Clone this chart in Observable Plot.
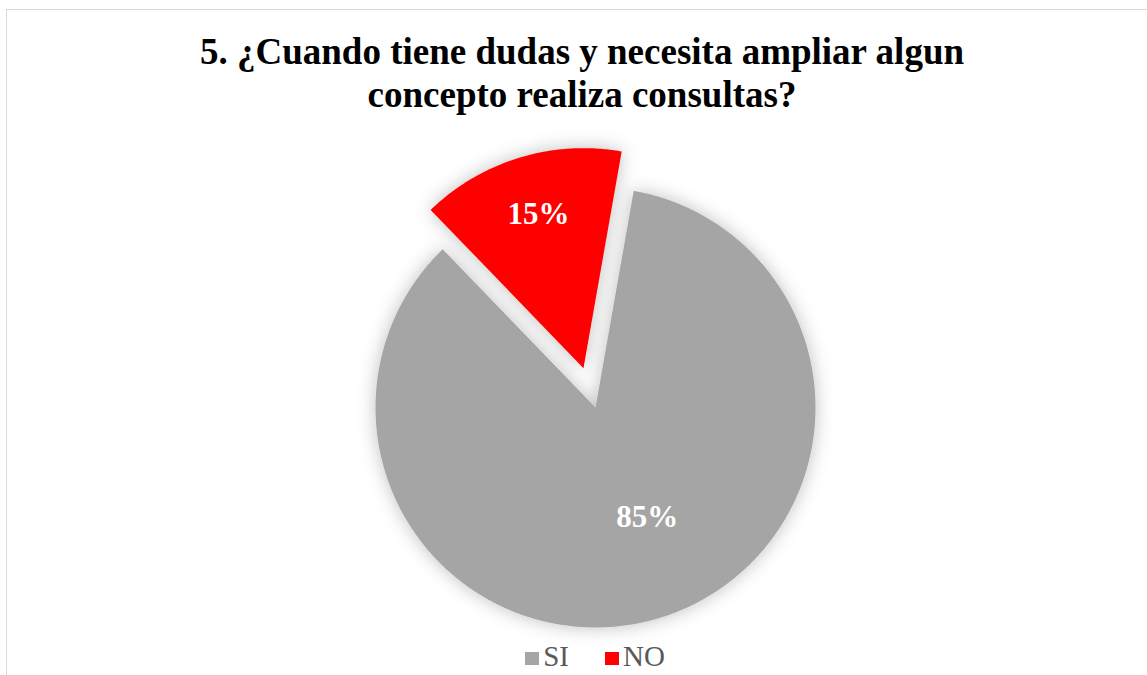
<!DOCTYPE html>
<html><head><meta charset="utf-8">
<script src="https://cdn.jsdelivr.net/npm/d3@7"></script>
<script src="https://cdn.jsdelivr.net/npm/@observablehq/plot@0.6"></script>
<style>
html,body{margin:0;padding:0;background:#fff;}
body{width:1147px;height:675px;overflow:hidden;position:relative;font-family:"Liberation Serif","Times New Roman",serif;}
#frame{position:absolute;left:6px;top:9px;width:1170px;height:720px;border:1.5px solid #d9d9d9;box-sizing:border-box;}
#chart{position:absolute;left:0;top:0;}
#title{position:absolute;left:0;width:1164px;top:30px;text-align:center;font-weight:bold;font-size:37px;line-height:43px;color:#000;}
#legend{position:absolute;left:0;width:1190px;top:640px;text-align:center;font-size:29px;color:#595959;white-space:nowrap;}
#legend span.item{display:inline-block;margin:0 18px;}
#legend span.sw{display:inline-block;width:14px;height:13px;margin-right:4px;vertical-align:1px;}
</style>
</head><body>
<div id="frame"></div>
<div id="chart"></div>
<div id="title">5. ¿Cuando tiene dudas y necesita ampliar algun<br>concepto realiza consultas?</div>
<div id="legend"></div>
<script>
// Data
const categories = ["SI", "NO"];
const values = [85, 15];
const labels = ["85%", "15%"];
const colors = ["#a5a5a5", "#ff0000"];

// Geometry / style
const startAngle = 10;      // degrees, clockwise from 12 o'clock
const explode = [0, 0.187]; // fraction of radius
const labelR = [0.54, 0.73];
const labelShift = [[17, -4], [2, 0]];

const total = d3.sum(values);
let acc = startAngle;
const slices = categories.map((c, i) => {
  const a0 = acc, a1 = acc + values[i] / total * 360;
  acc = a1;
  const mid = (a0 + a1) / 2 * Math.PI / 180;
  const ox = explode[i] * Math.sin(mid), oy = explode[i] * Math.cos(mid);
  return {key: c, value: values[i], label: labels[i], a0, a1, mid, ox, oy, i};
});

const features = slices.map(s => {
  const ring = [[s.ox, s.oy]];
  const n = Math.ceil(s.a1 - s.a0) * 2;
  for (let k = 0; k <= n; k++) {
    const a = (s.a0 + (s.a1 - s.a0) * k / n) * Math.PI / 180;
    ring.push([s.ox + Math.sin(a), s.oy + Math.cos(a)]);
  }
  ring.push([s.ox, s.oy]);
  return {type: "Feature", properties: {key: s.key}, geometry: {type: "Polygon", coordinates: [ring]}};
});
const labelPts = slices.map(s => ({
  label: s.label,
  x: s.ox + labelR[s.i] * Math.sin(s.mid),
  y: s.oy + labelR[s.i] * Math.cos(s.mid),
  dx: labelShift[s.i][0], dy: labelShift[s.i][1]
}));

const cx = 595, cy = 407, R = 220, W = 1147, H = 675;
const plot = Plot.plot({
  width: W, height: H,
  marginLeft: cx - R, marginRight: W - cx - R, marginTop: cy - R, marginBottom: H - cy - R,
  projection: {type: "reflect-y", domain: {type: "MultiPoint", coordinates: [[-1, -1], [1, 1]]}, inset: 0, clip: false},
  color: {domain: categories, range: colors},
  marks: [
    Plot.geo(features, {fill: d => d.properties.key, stroke: "none", clip: false}),
    ...labelPts.map(l => Plot.text([l], {x: "x", y: "y", text: "label", dx: l.dx, dy: l.dy,
      fill: "white", fontSize: 31, fontWeight: "bold", fontFamily: "Liberation Serif, Times New Roman, serif"}))
  ]
});
plot.style.background = "transparent";
plot.style.overflow = "visible";

const svg = d3.select(plot);
const defs = svg.insert("defs", ":first-child");
const f = defs.append("filter").attr("id", "glow").attr("x", "-25%").attr("y", "-25%").attr("width", "150%").attr("height", "150%");
f.append("feDropShadow").attr("dx", 0).attr("dy", 0).attr("stdDeviation", 9)
  .attr("flood-color", "#000").attr("flood-opacity", 0.25);
svg.selectAll('g[aria-label="geo"] path').attr("filter", "url(#glow)");
document.getElementById("chart").appendChild(plot);

// legend
const lg = d3.select("#legend");
categories.forEach((c, i) => {
  const it = lg.append("span").attr("class", "item");
  it.append("span").attr("class", "sw").style("background", colors[i]);
  it.append("span").text(c);
});
</script>
</body></html>
